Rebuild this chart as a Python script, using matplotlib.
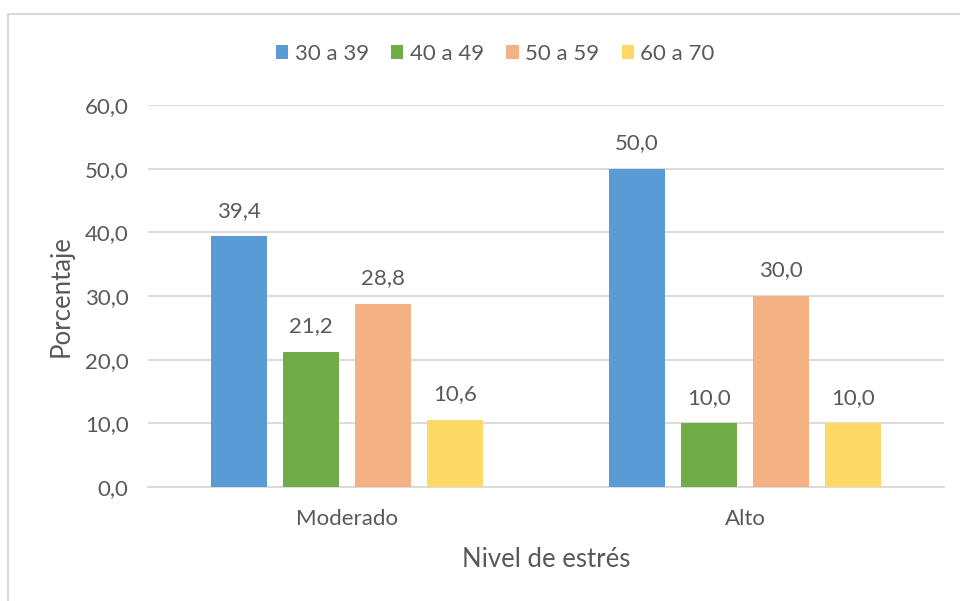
import matplotlib.pyplot as plt
from matplotlib.patches import Rectangle
import numpy as np

categories = ['Moderado', 'Alto']
groups = ['30 a 39', '40 a 49', '50 a 59', '60 a 70']
values = {
    '30 a 39': [39.4, 50.0],
    '40 a 49': [21.2, 10.0],
    '50 a 59': [28.8, 30.0],
    '60 a 70': [10.6, 10.0],
}
colors = ['#5b9bd5', '#70ad47', '#f4b183', '#ffd966']

plt.rcParams['font.family'] = ['Lato', 'DejaVu Sans']
text_color = '#595959'

fig = plt.figure(figsize=(9.6, 6.01), dpi=100)
ax = fig.add_axes([148 / 960, 114 / 601, 796 / 960, 382 / 601])

x = np.arange(len(categories))
width = 0.1407
step = 0.181
for i, g in enumerate(groups):
    pos = x + (i - 1.5) * step
    bars = ax.bar(pos, values[g], width, color=colors[i], label=g, zorder=3)
    for b, v in zip(bars, values[g]):
        ax.text(b.get_x() + b.get_width() / 2, v + 4.0, f'{v:.1f}'.replace('.', ','),
                ha='center', va='center', fontsize=16, color=text_color)

ax.set_xlim(-0.5, 1.5)
ax.set_ylim(0, 60)
ax.set_yticks(np.arange(0, 61, 10))
ax.set_yticklabels([f'{t:.1f}'.replace('.', ',') for t in np.arange(0, 61, 10)])
ax.set_xticks(x)
ax.set_xticklabels(categories)
ax.tick_params(axis='both', length=0, labelsize=16, colors=text_color)
ax.tick_params(axis='y', pad=14)
ax.tick_params(axis='x', pad=16)
ax.grid(axis='y', color='#d9d9d9', linewidth=1.3, zorder=0)
for s in ['left', 'right', 'top']:
    ax.spines[s].set_visible(False)
ax.spines['bottom'].set_color('#d9d9d9')
ax.spines['bottom'].set_linewidth(1.3)

ax.set_ylabel('Porcentaje', fontsize=18.5, color=text_color, labelpad=8)
ax.set_xlabel('Nivel de estrés', fontsize=18.5, color=text_color, labelpad=13)

leg = fig.legend(loc='center', bbox_to_anchor=(0.516, 1 - 54 / 601), ncol=4, frameon=False,
                 fontsize=16, handlelength=0.55, handleheight=0.55, handletextpad=0.3,
                 columnspacing=1.0)
for t in leg.get_texts():
    t.set_color(text_color)

fig.patches.append(Rectangle((8 / 960, -0.1), 1.2, 1 - 14 / 601 + 0.1, transform=fig.transFigure,
                             fill=False, edgecolor='#d9d9d9', linewidth=1.5))

fig.savefig('out.png', dpi=100)
